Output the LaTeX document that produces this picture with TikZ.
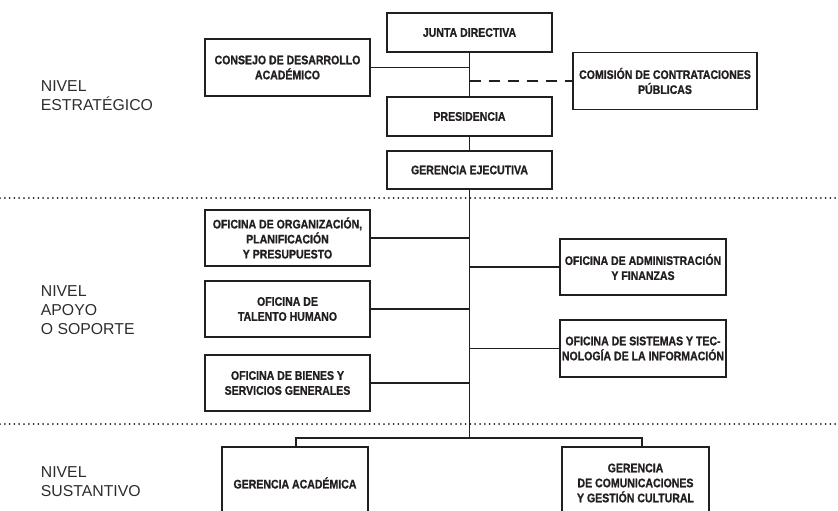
\documentclass[tikz,border=0pt]{standalone}
\usepackage{fontspec}
\setmainfont{Liberation Sans}
\newfontfamily\boxfont[FakeStretch=0.85,FakeBold=1]{Liberation Sans}
\definecolor{ink}{RGB}{35,31,32}
\definecolor{lab}{RGB}{45,45,45}
\tikzset{
  box/.style={draw=ink, line width=1.8pt, align=center, inner sep=0pt,
    font=\boxfont\bfseries\fontsize{12.4}{15}\selectfont, text=ink},
  conn/.style={draw=ink, line width=1.5pt},
  dashconn/.style={conn, dash pattern=on 11pt off 8pt},
  levelsep/.style={draw=ink, line width=2pt, line cap=round, dash pattern=on 0pt off 4.8pt},
  lvl/.style={anchor=base west, inner sep=0pt, font=\fontsize{15.8}{18.8}\selectfont, text=lab}
}
\begin{document}
\begin{tikzpicture}[x=1pt,y=-1pt]
\useasboundingbox (0,0) rectangle (838,511);
\clip (0,0) rectangle (838,511);
% level separators
\draw[levelsep] (0,198) -- (838,198);
\draw[levelsep] (0,424) -- (838,424);
% level labels
\node[lvl] (e1) at (40.7,92) {NIVEL};
\node[lvl] (e2) at (40.7,110.7) {ESTRATÉGICO};
\node[lvl] (a1) at (40.7,296.7) {NIVEL};
\node[lvl] (a2) at (40.7,315.7) {APOYO};
\node[lvl] (a3) at (40.7,334) {O SOPORTE};
\node[lvl] (s1) at (40.7,477.7) {NIVEL};
\node[lvl] (s2) at (40.7,496.7) {SUSTANTIVO};
% boxes
\node[box, minimum width=165pt, minimum height=39pt] (junta) at (469.5,32.5) {JUNTA DIRECTIVA};
\node[box, minimum width=165pt, minimum height=57pt] (consejo) at (287.5,67.5) {CONSEJO DE DESARROLLO\\ACADÉMICO};
\node[box, minimum width=184pt, minimum height=57pt] (comision) at (665,81) {COMISIÓN DE CONTRATACIONES\\PÚBLICAS};
\node[box, minimum width=165pt, minimum height=39pt] (presidencia) at (469.5,116.5) {PRESIDENCIA};
\node[box, minimum width=165pt, minimum height=38pt] (gerencia) at (469.5,170) {GERENCIA EJECUTIVA};
\node[box, minimum width=165pt, minimum height=56pt] (org) at (287.5,238) {OFICINA DE ORGANIZACIÓN,\\PLANIFICACIÓN\\Y PRESUPUESTO};
\node[box, minimum width=165pt, minimum height=56pt] (talento) at (287.5,309) {OFICINA DE\\TALENTO HUMANO};
\node[box, minimum width=165pt, minimum height=56pt] (bienes) at (287.5,383) {OFICINA DE BIENES Y\\SERVICIOS GENERALES};
\node[box, minimum width=166pt, minimum height=56pt] (admin) at (643,267) {OFICINA DE ADMINISTRACIÓN\\Y FINANZAS};
\node[box, minimum width=166pt, minimum height=57pt] (sistemas) at (643,348.5) {OFICINA DE SISTEMAS Y TEC-\\NOLOGÍA DE LA INFORMACIÓN};
\node[box, minimum width=146pt, minimum height=72pt] (acad) at (295,483) {GERENCIA ACADÉMICA};
\node[box, minimum width=147pt, minimum height=72pt] (comun) at (635.5,483) {GERENCIA\\DE COMUNICACIONES\\Y GESTIÓN CULTURAL};
% trunk
\coordinate (tend) at (469.5,438);
\coordinate (barL) at (296,438);
\coordinate (barR) at (642,438);
\draw[conn] (junta) -- (presidencia);
\draw[conn] (presidencia) -- (gerencia);
\draw[conn] (gerencia.south) -- (tend);
\draw[conn] (consejo.east) -- (consejo.east -| tend);
\draw[dashconn] (comision.west -| tend) -- (comision.west);
\draw[conn] (org.east) -- (org.east -| tend);
\draw[conn] (talento.east) -- (talento.east -| tend);
\draw[conn] (bienes.east) -- (bienes.east -| tend);
\draw[conn] (admin.west) -- (admin.west -| tend);
\draw[conn] (sistemas.west) -- (sistemas.west -| tend);
\draw[conn] (barL |- acad.north) -- (barL) -- (barR) -- (barR |- comun.north);
\end{tikzpicture}
\end{document}
